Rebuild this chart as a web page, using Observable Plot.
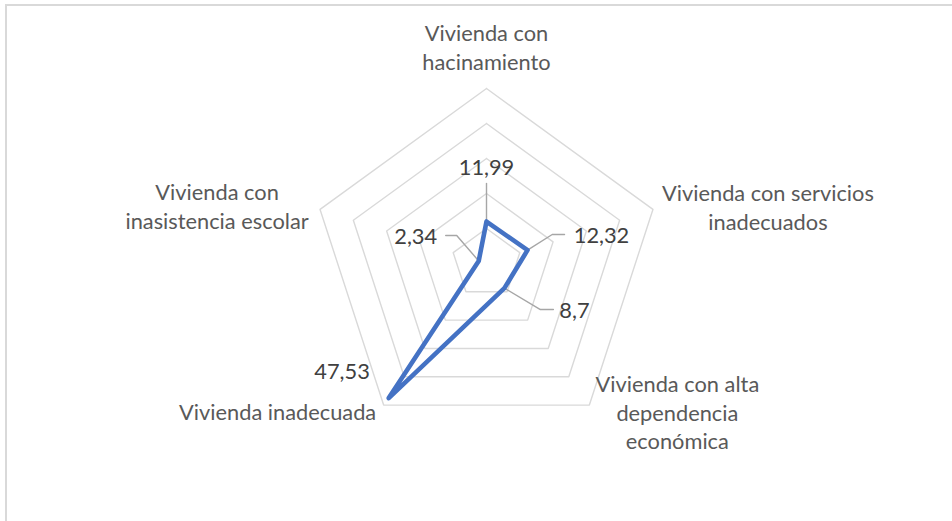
<!DOCTYPE html>
<html><head><meta charset="utf-8">
<script src="https://cdn.jsdelivr.net/npm/d3@7"></script>
<script src="https://cdn.jsdelivr.net/npm/@observablehq/plot@0.6"></script>
<style>
html,body{margin:0;padding:0;background:#fff;}
#wrap{position:relative;width:952px;height:521px;overflow:hidden;background:#fff;}
#frame{position:absolute;left:5px;top:4px;right:-10px;bottom:-10px;border-top:2px solid #d9d9d9;border-left:2px solid #d9d9d9;pointer-events:none;}
</style></head><body>
<div id="wrap"><div id="chart"></div><div id="frame"></div></div>
<script>
// ---- data ----
const categories = ["Vivienda con\nhacinamiento", "Vivienda con servicios\ninadecuados", "Vivienda con alta\ndependencia\neconómica", "Vivienda inadecuada", "Vivienda con\ninasistencia escolar"];
const values = [11.99, 12.32, 8.7, 47.53, 2.34];
const valueLabels = ["11,99", "12,32", "8,7", "47,53", "2,34"];
const gridLevels = [10, 20, 30, 40, 50];

// ---- layout (pixels) ----
const W = 952, H = 521, CX = 486, CY = 263, R = 175, MAX = 50;
const k = R / MAX; // px per unit
const catOffsets = [[0, -42], [115, -3.4], [88, 6.5], [-106, 6], [-103, -4]];
const labelOffsets = [[0, -54], [74, -13.7], [70, 22.4], [-46.7, -26], [-63, -24]];
const leaderPaths = [
  [[0, 0], [0, -38]],
  [[0, 0], [24.7, -15.7], [37, -15.7]],
  [[0, 0], [36, 21.4], [49, 21.4]],
  null,
  [[0, 0], [-22, -25.5], [-33, -25.5]]
];
const fontSize = 21.8;

const n = categories.length;
const ang = i => i * 2 * Math.PI / n;
const pos = (r, i) => [r * Math.sin(ang(i)), r * Math.cos(ang(i))];
const shift = (p, o) => [p[0] + o[0] / k, p[1] - o[1] / k];

const gridData = gridLevels.flatMap(level =>
  d3.range(n + 1).map(j => { const [x, y] = pos(level, j % n); return {level, x, y}; }));
const seriesData = d3.range(n + 1).map(j => { const [x, y] = pos(values[j % n], j % n); return {x, y}; });
const catData = categories.map((c, i) => { const [x, y] = shift(pos(MAX, i), catOffsets[i]); return {text: c, x, y}; });
const valData = valueLabels.map((t, i) => { const [x, y] = shift(pos(values[i], i), labelOffsets[i]); return {text: t, x, y}; });
const leaderData = leaderPaths.flatMap((p, i) => p ? p.map(o => { const [x, y] = shift(pos(values[i], i), o); return {i, x, y}; }) : []);

const chart = Plot.plot({
  width: W, height: H, margin: 0,
  x: {domain: [-CX / k, (W - CX) / k], axis: null},
  y: {domain: [-(H - CY) / k, CY / k], axis: null},
  style: {fontFamily: "Lato, 'Open Sans', sans-serif", background: "#fff"},
  marks: [
    Plot.line(gridData, {x: "x", y: "y", z: "level", stroke: "#d9d9d9", strokeWidth: 1.4}),
    Plot.line(leaderData, {x: "x", y: "y", z: "i", stroke: "#a6a6a6", strokeWidth: 1.4}),
    Plot.line(seriesData, {x: "x", y: "y", stroke: "#4472C4", strokeWidth: 4.6, strokeLinejoin: "round", strokeLinecap: "round"}),
    Plot.text(catData, {x: "x", y: "y", text: "text", fill: "#595959", fontSize, lineHeight: 28.7 / fontSize, lineAnchor: "middle", textAnchor: "middle"}),
    Plot.text(valData, {x: "x", y: "y", text: "text", fill: "#404040", fontSize, lineAnchor: "middle", textAnchor: "middle"})
  ]
});
document.getElementById("chart").appendChild(chart);
</script>
</body></html>
